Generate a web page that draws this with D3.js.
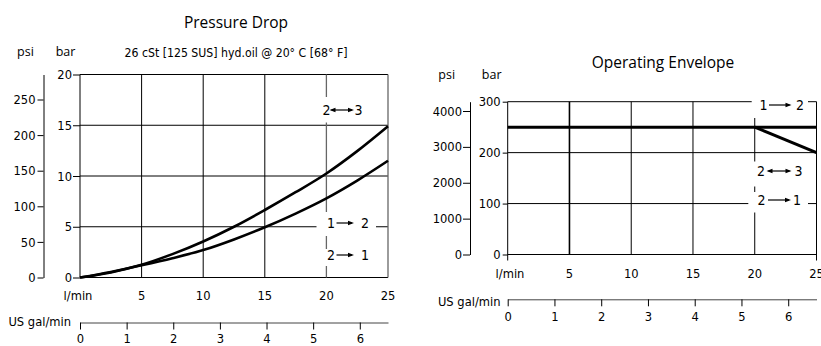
<!DOCTYPE html>
<html><head><meta charset="utf-8">
<script src="https://cdn.jsdelivr.net/npm/d3@7"></script>
<style>body{margin:0;background:#fff}svg{display:block}.nar{font-stretch:condensed}</style>
</head><body>
<svg id="c" width="821" height="346"></svg>
<script>
// ---------------- data ----------------
const flowLpm = [0, 2.5, 5, 7.5, 10, 12.5, 15, 17.5, 20, 22.5, 25];
const dpUpperBar = [0, 0.5, 1.25, 2.3, 3.55, 5.0, 6.65, 8.4, 10.25, 12.45, 14.9];
const dpLowerBar = [0, 0.55, 1.2, 1.9, 2.7, 3.75, 4.95, 6.3, 7.8, 9.55, 11.5];

const envFlow12 = [0, 25];
const envBar12 = [250, 250];
const envFlow23 = [20, 25];
const envBar23 = [250, 200];

const flowTicks = [5, 10, 15, 20, 25];
const flowGrid = [0, 5, 10, 15, 20, 25];
const galTicks = [0, 1, 2, 3, 4, 5, 6];
const barTicksL = [0, 5, 10, 15, 20];
const psiTicksL = [0, 50, 100, 150, 200, 250];
const barTicksR = [0, 100, 200, 300];
const psiTicksR = [0, 1000, 2000, 3000, 4000];

const titleL = "Pressure Drop";
const subtitleL = "26 cSt [125 SUS] hyd.oil @ 20° C [68° F]";
const titleR = "Operating Envelope";
const LPM_PER_GAL = 3.785;

// ---------------- fonts ----------------
const NARROW = "'DejaVu Sans Condensed','DejaVu Sans',sans-serif";
const SANS = "'Open Sans','Noto Sans',sans-serif";
const TICK = 12.8;
const fmt = d3.format("d");

const svg = d3.select("#c");

function nar(sel, size) {
  return sel.attr("font-family", NARROW).attr("font-size", size || TICK).attr("class", "nar")
    .style("font-stretch", "condensed");
}
function styleAxis(g) {
  nar(g, TICK);
  g.selectAll("line,path").attr("stroke", "#000").attr("stroke-width", 1);
  g.selectAll("text").attr("fill", "#000").style("font-stretch", "condensed");
}
function txt(g, x, y, s, anchor) {
  return nar(g.append("text").attr("x", x).attr("y", y).attr("dy", "0.35em")
    .attr("text-anchor", anchor || "middle").text(s));
}

function arrow(g, x1, x2, y, both) {
  const hl = 6, hw = 2.3;
  g.append("line").attr("x1", x1 + (both ? 2 : 0)).attr("x2", x2 - 2)
    .attr("y1", y).attr("y2", y).attr("stroke", "#000").attr("stroke-width", 1.2);
  g.append("path").attr("d", `M${x2},${y}L${x2 - hl},${y - hw}L${x2 - hl},${y + hw}Z`).attr("fill", "#000");
  if (both) g.append("path").attr("d", `M${x1},${y}L${x1 + hl},${y - hw}L${x1 + hl},${y + hw}Z`).attr("fill", "#000");
}
function flowLabel(g, a, xa, x1, x2, b, xb, y, both) {
  txt(g, xa, y, a).attr("font-size", 14);
  arrow(g, x1, x2, y, both);
  txt(g, xb, y, b).attr("font-size", 14);
}
function whiteBox(g, x0, y0, x1, y1) {
  g.append("rect").attr("x", x0).attr("y", y0).attr("width", x1 - x0).attr("height", y1 - y0).attr("fill", "#fff");
}

// =============== LEFT: Pressure Drop ===============
{
  const x = d3.scaleLinear().domain([0, 25]).range([80, 388]);
  const y = d3.scaleLinear().domain([0, 20]).range([277.5, 74.5]);
  const yPsi = d3.scaleLinear().domain([0, 250]).range([277.5, 99.5]);
  const yPsiAx = d3.scaleLinear().domain([0, yPsi.invert(74.5)]).range([277.5, 74.5]);
  const gal = d3.scaleLinear().domain([0, 25 / LPM_PER_GAL]).range([80, 388]);
  const g = svg.append("g");

  g.selectAll(".h").data(barTicksL).join("line")
    .attr("x1", x(0)).attr("x2", x(25)).attr("y1", d => y(d)).attr("y2", d => y(d))
    .attr("stroke", "#000").attr("stroke-width", 1);
  g.selectAll(".v").data(flowGrid).join("line")
    .attr("x1", d => x(d)).attr("x2", d => x(d)).attr("y1", y(0)).attr("y2", y(20))
    .attr("stroke", d => d >= 20 ? "#666" : "#000").attr("stroke-width", d => d >= 20 ? 1.3 : 1);

  const ab = g.append("g").attr("transform", `translate(${x(0)},0)`)
    .call(d3.axisLeft(y).tickValues(barTicksL).tickFormat(fmt).tickSize(7).tickSizeOuter(0).tickPadding(1));
  ab.select(".domain").remove();
  styleAxis(ab);
  const ap = g.append("g").attr("transform", "translate(43.5,0)")
    .call(d3.axisLeft(yPsiAx).tickValues(psiTicksL).tickFormat(fmt).tickSize(6).tickSizeOuter(0).tickPadding(2));
  styleAxis(ap);
  const ag = g.append("g").attr("transform", "translate(0,322.5)")
    .call(d3.axisBottom(gal).tickValues(galTicks).tickFormat(fmt).tickSize(7).tickSizeOuter(0).tickPadding(4));
  styleAxis(ag);
  ag.select(".domain").attr("stroke", "#444");

  g.selectAll(".xl").data(flowTicks).join("text")
    .attr("x", d => x(d)).attr("y", 296).attr("dy", "0.35em").attr("text-anchor", "middle")
    .attr("font-family", NARROW).attr("font-size", TICK).style("font-stretch", "condensed").text(d => d);
  txt(g, 78, 296, "l/min");
  txt(g, 71, 322, "US gal/min", "end");

  whiteBox(g, 317, 97, 363, 122.5);
  whiteBox(g, 316.5, 212, 376, 236);
  whiteBox(g, 316.5, 249, 376, 266);
  flowLabel(g, "2", 326.5, 329.5, 354, "3", 358.5, 110, true);
  flowLabel(g, "1", 331, 336.5, 354, "2", 365, 223, false);
  flowLabel(g, "2", 331, 336.5, 354, "1", 365, 255, false);

  const line = d3.line().x(d => x(d[0])).y(d => y(d[1])).curve(d3.curveCatmullRom);
  g.append("path").datum(flowLpm.map((f, i) => [f, dpUpperBar[i]])).attr("d", line)
    .attr("fill", "none").attr("stroke", "#000").attr("stroke-width", 2.6);
  g.append("path").datum(flowLpm.map((f, i) => [f, dpLowerBar[i]])).attr("d", line)
    .attr("fill", "none").attr("stroke", "#000").attr("stroke-width", 2.6);

  g.append("text").attr("x", 236).attr("y", 23).attr("dy", "0.35em").attr("text-anchor", "middle")
    .attr("font-family", SANS).attr("font-size", 15.5).text(titleL);
  txt(g, 236, 52.5, subtitleL).attr("font-size", 12.2);
  g.append("text").attr("x", 25.5).attr("y", 52).attr("dy", "0.35em").attr("text-anchor", "middle")
    .attr("font-family", SANS).attr("font-size", 12.5).text("psi");
  g.append("text").attr("x", 65.5).attr("y", 52).attr("dy", "0.35em").attr("text-anchor", "middle")
    .attr("font-family", SANS).attr("font-size", 12.5).text("bar");
}

// =============== RIGHT: Operating Envelope ===============
{
  const x = d3.scaleLinear().domain([0, 25]).range([507.7, 816.5]);
  const y = d3.scaleLinear().domain([0, 300]).range([254.5, 101.7]);
  const yPsi = d3.scaleLinear().domain([0, 4000]).range([254.5, 111]);
  const yPsiAx = d3.scaleLinear().domain([0, yPsi.invert(101.7)]).range([254.5, 101.7]);
  const gal = d3.scaleLinear().domain([0, 25 / LPM_PER_GAL]).range([507.7, 816.5]);
  const g = svg.append("g");

  g.selectAll(".h").data(barTicksR).join("line")
    .attr("x1", x(0)).attr("x2", x(25)).attr("y1", d => y(d)).attr("y2", d => y(d))
    .attr("stroke", "#000").attr("stroke-width", 1);
  g.selectAll(".v").data(flowGrid).join("line")
    .attr("x1", d => x(d)).attr("x2", d => x(d))
    .attr("y1", d => (d === 0 || d === 25) ? y(0) + 6 : y(0)).attr("y2", y(300))
    .attr("stroke", "#000").attr("stroke-width", d => d === 5 ? 1.6 : 1);

  const ab = g.append("g").attr("transform", `translate(${x(0)},0)`)
    .call(d3.axisLeft(y).tickValues(barTicksR).tickFormat(fmt).tickSize(5).tickSizeOuter(0).tickPadding(2));
  ab.select(".domain").remove();
  styleAxis(ab);
  const ap = g.append("g").attr("transform", "translate(470,0)")
    .call(d3.axisLeft(yPsiAx).tickValues(psiTicksR).tickFormat(fmt).tickSize(7).tickSizeOuter(0).tickPadding(1));
  styleAxis(ap);
  const ag = g.append("g").attr("transform", "translate(0,299.3)")
    .call(d3.axisBottom(gal).tickValues(galTicks).tickFormat(fmt).tickSize(7).tickSizeOuter(0).tickPadding(6));
  styleAxis(ag);
  ag.select(".domain").attr("stroke", "#444");

  g.selectAll(".xl").data(flowTicks).join("text")
    .attr("x", d => x(d)).attr("y", 274).attr("dy", "0.35em").attr("text-anchor", "middle")
    .attr("font-family", NARROW).attr("font-size", TICK).style("font-stretch", "condensed").text(d => d);
  txt(g, 510, 274, "l/min");
  txt(g, 500.5, 301.5, "US gal/min", "end");

  whiteBox(g, 751.7, 95, 808, 118);
  whiteBox(g, 749, 161.5, 810, 186.5);
  whiteBox(g, 748.3, 192, 808, 212.5);
  flowLabel(g, "1", 763.5, 769, 791.5, "2", 800, 105, false);
  flowLabel(g, "2", 761, 766.5, 791.5, "3", 798.5, 171, true);
  flowLabel(g, "2", 761.5, 768, 791, "1", 797, 200, false);

  const line = d3.line().x(d => x(d[0])).y(d => y(d[1]));
  g.append("path").datum(envFlow12.map((f, i) => [f, envBar12[i]])).attr("d", line)
    .attr("fill", "none").attr("stroke", "#000").attr("stroke-width", 3);
  g.append("path").datum(envFlow23.map((f, i) => [f, envBar23[i]])).attr("d", line)
    .attr("fill", "none").attr("stroke", "#000").attr("stroke-width", 3);

  g.append("text").attr("x", 663).attr("y", 63).attr("dy", "0.35em").attr("text-anchor", "middle")
    .attr("font-family", SANS).attr("font-size", 15.5).text(titleR);
  g.append("text").attr("x", 446.7).attr("y", 75).attr("dy", "0.35em").attr("text-anchor", "middle")
    .attr("font-family", SANS).attr("font-size", 12.5).text("psi");
  g.append("text").attr("x", 491.7).attr("y", 75).attr("dy", "0.35em").attr("text-anchor", "middle")
    .attr("font-family", SANS).attr("font-size", 12.5).text("bar");
}
</script>
</body></html>
